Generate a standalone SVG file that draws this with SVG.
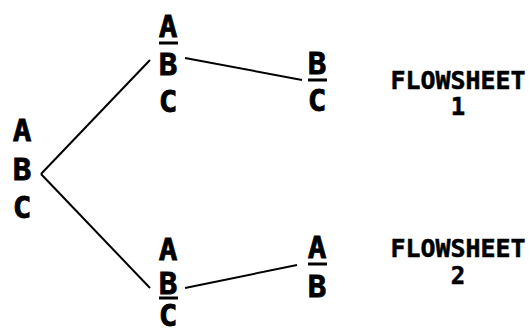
<svg xmlns="http://www.w3.org/2000/svg" width="530" height="330" viewBox="0 0 530 330">
<style>
.l{font-family:"DejaVu Sans Mono","Liberation Mono",monospace;font-weight:bold;font-size:31px;fill:#000;stroke:#000;stroke-width:0.8;text-anchor:middle}
.f{font-family:"DejaVu Sans Mono","Liberation Mono",monospace;font-weight:bold;font-size:24px;fill:#000;stroke:#000;stroke-width:0.5;text-anchor:middle}
.bar{stroke:#000;stroke-width:3}
.c{stroke:#000;stroke-width:2;fill:none}
</style>
<rect width="530" height="330" fill="#fff"/>
<g id="connectors">
<line class="c" x1="41" y1="174" x2="150" y2="60"/>
<line class="c" x1="41" y1="174" x2="150" y2="288"/>
<line class="c" x1="185" y1="58" x2="302" y2="80"/>
<line class="c" x1="185" y1="288" x2="297" y2="265"/>
</g>
<g id="root">
<text class="l" x="22" y="141">A</text>
<text class="l" x="22" y="180">B</text>
<text class="l" x="22" y="218">C</text>
</g>
<g id="top-mid">
<text class="l" x="168" y="37">A</text>
<line class="bar" x1="159" y1="43" x2="178" y2="43"/>
<text class="l" x="168" y="75">B</text>
<text class="l" x="168" y="112">C</text>
</g>
<g id="top-right">
<text class="l" x="317" y="74">B</text>
<line class="bar" x1="308" y1="80" x2="327" y2="80"/>
<text class="l" x="317" y="111">C</text>
</g>
<g id="bot-mid">
<text class="l" x="168" y="260">A</text>
<text class="l" x="168" y="294">B</text>
<line class="bar" x1="159" y1="298" x2="178" y2="298"/>
<text class="l" x="168" y="326">C</text>
</g>
<g id="bot-right">
<text class="l" x="317" y="258">A</text>
<line class="bar" x1="308" y1="264" x2="327" y2="264"/>
<text class="l" x="317" y="297">B</text>
</g>
<g id="label1">
<text class="f" x="458" y="89" textLength="135" lengthAdjust="spacingAndGlyphs">FLOWSHEET</text>
<text class="f" x="458" y="115">1</text>
</g>
<g id="label2">
<text class="f" x="458" y="257" textLength="135" lengthAdjust="spacingAndGlyphs">FLOWSHEET</text>
<text class="f" x="458" y="284">2</text>
</g>
</svg>
